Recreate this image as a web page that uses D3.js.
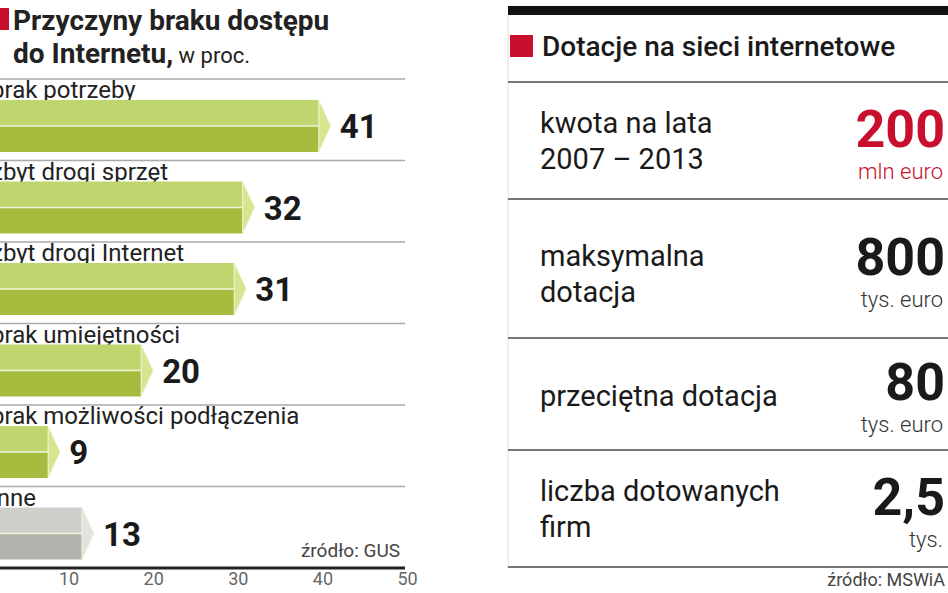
<!DOCTYPE html>
<html><head><meta charset="utf-8">
<script src="https://cdn.jsdelivr.net/npm/d3@7"></script>
<style>body{margin:0;background:#fff}svg{display:block}text{font-family:Roboto,"Noto Sans",sans-serif}</style>
</head><body><svg id="c" width="948" height="593"></svg>
<script>
const categories=["brak potrzeby","zbyt drogi sprzęt","zbyt drogi Internet","brak umiejętności","brak możliwości podłączenia","inne"];
const values=[41,32,31,20,9,13];
const ticks=[0,10,20,30,40,50];
const rowLabels=[["kwota na lata","2007 – 2013"],["maksymalna","dotacja"],["przeciętna dotacja"],["liczba dotowanych","firm"]];
const rowValues=["200","800","80","2,5"];
const rowUnits=["mln euro","tys.  euro","tys.  euro","tys."];

const svg=d3.select("#c");
const x=d3.scaleLinear().domain([0,50]).range([-16,407]);
const y=d3.scaleBand().domain(categories).range([79,568]).paddingInner(0);
const g=svg.append("g");
g.append("rect").attr("x",0).attr("y",8).attr("width",9).attr("height",22).attr("fill","#c8102e");
g.append("text").attr("x",13).attr("y",30).attr("font-size",28).attr("font-weight",700).attr("fill","#222").text("Przyczyny braku dostępu");
const t2=g.append("text").attr("x",13).attr("y",63).attr("font-size",28).attr("font-weight",700).attr("fill","#222");
t2.append("tspan").text("do Internetu,");
t2.append("tspan").attr("font-size",22).attr("font-weight",400).text(" w proc.");
categories.forEach((c,i)=>{
  const y0=y(c);
  g.append("line").attr("x1",0).attr("x2",405).attr("y1",y0).attr("y2",y0).attr("stroke","#aaa").attr("stroke-width",1.5);
  g.append("text").attr("x",-9).attr("y",y0+19).attr("font-size",24).attr("fill","#222").text(c);
  const v=values[i], xe=x(v), tip=12, top=y0+21, h=52, mid=top+h/2;
  const light=i===5?"#cfd0cc":"#bfd66e", dark=i===5?"#b1b3ad":"#a6bc3f", tipc=i===5?"#e2e3df":"#d6e68e";
  g.append("rect").attr("x",x(0)).attr("y",top).attr("width",xe-tip-x(0)).attr("height",h/2).attr("fill",light);
  g.append("rect").attr("x",x(0)).attr("y",mid).attr("width",xe-tip-x(0)).attr("height",h/2).attr("fill",dark);
  g.append("line").attr("x1",x(0)).attr("x2",xe-tip).attr("y1",mid).attr("y2",mid).attr("stroke","#f0f5d8").attr("stroke-width",1.5);
  g.append("path").attr("d",`M${xe-tip},${top}L${xe},${mid}L${xe-tip},${top+h}Z`).attr("fill",tipc).attr("stroke","#f0f5d8").attr("stroke-width",1);
  g.append("text").attr("x",xe+9).attr("y",mid+12).attr("font-size",33).attr("font-weight",700).attr("fill","#1a1a1a").text(v);
});
g.append("text").attr("x",400).attr("y",557).attr("text-anchor","end").attr("font-size",19).attr("fill","#444").text("źródło: GUS");
const ax=g.append("g").attr("transform","translate(0,568)").call(d3.axisBottom(x).tickValues(ticks.slice(1)).tickSize(0).tickPadding(4));
ax.select(".domain").attr("stroke","#222").attr("stroke-width",3).attr("d","M0,0H405");
ax.selectAll("text").attr("font-size",18).attr("fill","#666").attr("font-family","Roboto");

const r=svg.append("g");
r.append("rect").attr("x",508).attr("y",6).attr("width",440).attr("height",9).attr("fill","#111");
r.append("line").attr("x1",508).attr("x2",508).attr("y1",15).attr("y2",568).attr("stroke","#ddd");
r.append("rect").attr("x",510).attr("y",35).attr("width",23).attr("height",22).attr("fill","#c8102e");
r.append("text").attr("x",542).attr("y",56).attr("font-size",28).attr("font-weight",500).attr("fill","#1a1a1a").text("Dotacje na sieci internetowe");
const seps=[82,199,338,450,567];
seps.forEach(s=>r.append("line").attr("x1",508).attr("x2",948).attr("y1",s).attr("y2",s).attr("stroke","#777").attr("stroke-width",2));
rowValues.forEach((v,i)=>{
  const t=seps[i], b=seps[i+1], mid=(t+b)/2;
  const lines=rowLabels[i];
  lines.forEach((l,j)=>{
    const yy= lines.length===1? mid+12 : mid-8+(j*36)+(i===1?5:0);
    r.append("text").attr("x",540).attr("y",yy).attr("font-size",29).attr("fill","#1a1a1a").text(l);
  });
  r.append("text").attr("x",945).attr("y",mid+6).attr("text-anchor","end").attr("font-size",52).attr("font-weight",700).attr("fill",i===0?"#c8102e":"#1a1a1a").text(v);
  r.append("text").attr("x",943).attr("y",mid+38).attr("text-anchor","end").attr("font-size",22).attr("font-weight",300).attr("fill",i===0?"#c8102e":"#333").text(rowUnits[i]);
});
r.append("text").attr("x",945).attr("y",586).attr("text-anchor","end").attr("font-size",18).attr("fill","#444").text("źródło: MSWiA");
</script></body></html>
